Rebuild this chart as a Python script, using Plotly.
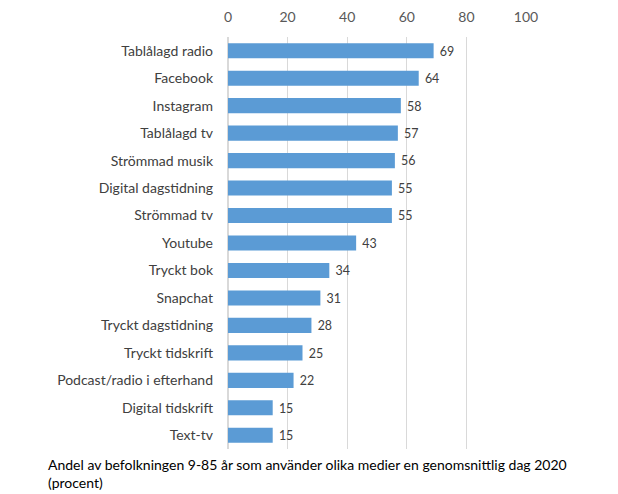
import plotly.graph_objects as go

categories = ["Tablålagd radio", "Facebook", "Instagram", "Tablålagd tv", "Strömmad musik",
              "Digital dagstidning", "Strömmad tv", "Youtube", "Tryckt bok", "Snapchat",
              "Tryckt dagstidning", "Tryckt tidskrift", "Podcast/radio i efterhand",
              "Digital tidskrift", "Text-tv"]
values = [69, 64, 58, 57, 56, 55, 55, 43, 34, 31, 28, 25, 22, 15, 15]
x_ticks = [0, 20, 40, 60, 80, 100]
caption = "Andel av befolkningen 9-85 år som använder olika medier en genomsnittlig dag 2020<br>(procent)"

FONT = "Lato, Open Sans, sans-serif"

fig = go.Figure(go.Bar(
    x=values, y=categories, orientation="h",
    marker=dict(color="#5B9BD5", line=dict(width=0)),
    texttemplate=" %{x}", textposition="outside",
    textfont=dict(family=FONT, size=14, color="#404040"),
    cliponaxis=False,
))

fig.update_layout(
    width=618, height=494,
    margin=dict(l=228, r=92, t=37, b=45),
    paper_bgcolor="white", plot_bgcolor="white",
    bargap=0.45,
    showlegend=False,
    font=dict(family=FONT, size=14, color="#595959"),
    xaxis=dict(range=[0, 100], side="top", tickvals=x_ticks, showgrid=True,
               gridcolor="#D9D9D9", gridwidth=1, zeroline=True, zerolinecolor="#D9D9D9",
               showline=False, ticks="", automargin=False, ticklabelstandoff=11,
               tickfont=dict(size=14, color="#595959")),
    yaxis=dict(autorange="reversed", ticks="", showline=False, automargin=False,
               tickfont=dict(size=14, color="#404040"), ticklabelstandoff=14),
    annotations=[dict(text=caption, xref="paper", yref="paper", x=-0.61, y=-0.012,
                      xanchor="left", yanchor="top", showarrow=False, align="left",
                      font=dict(family=FONT, size=14, color="#000000"))],
)

fig.write_html("out.html", config={"displayModeBar": False},
               post_script="document.body.style.margin='0';")
